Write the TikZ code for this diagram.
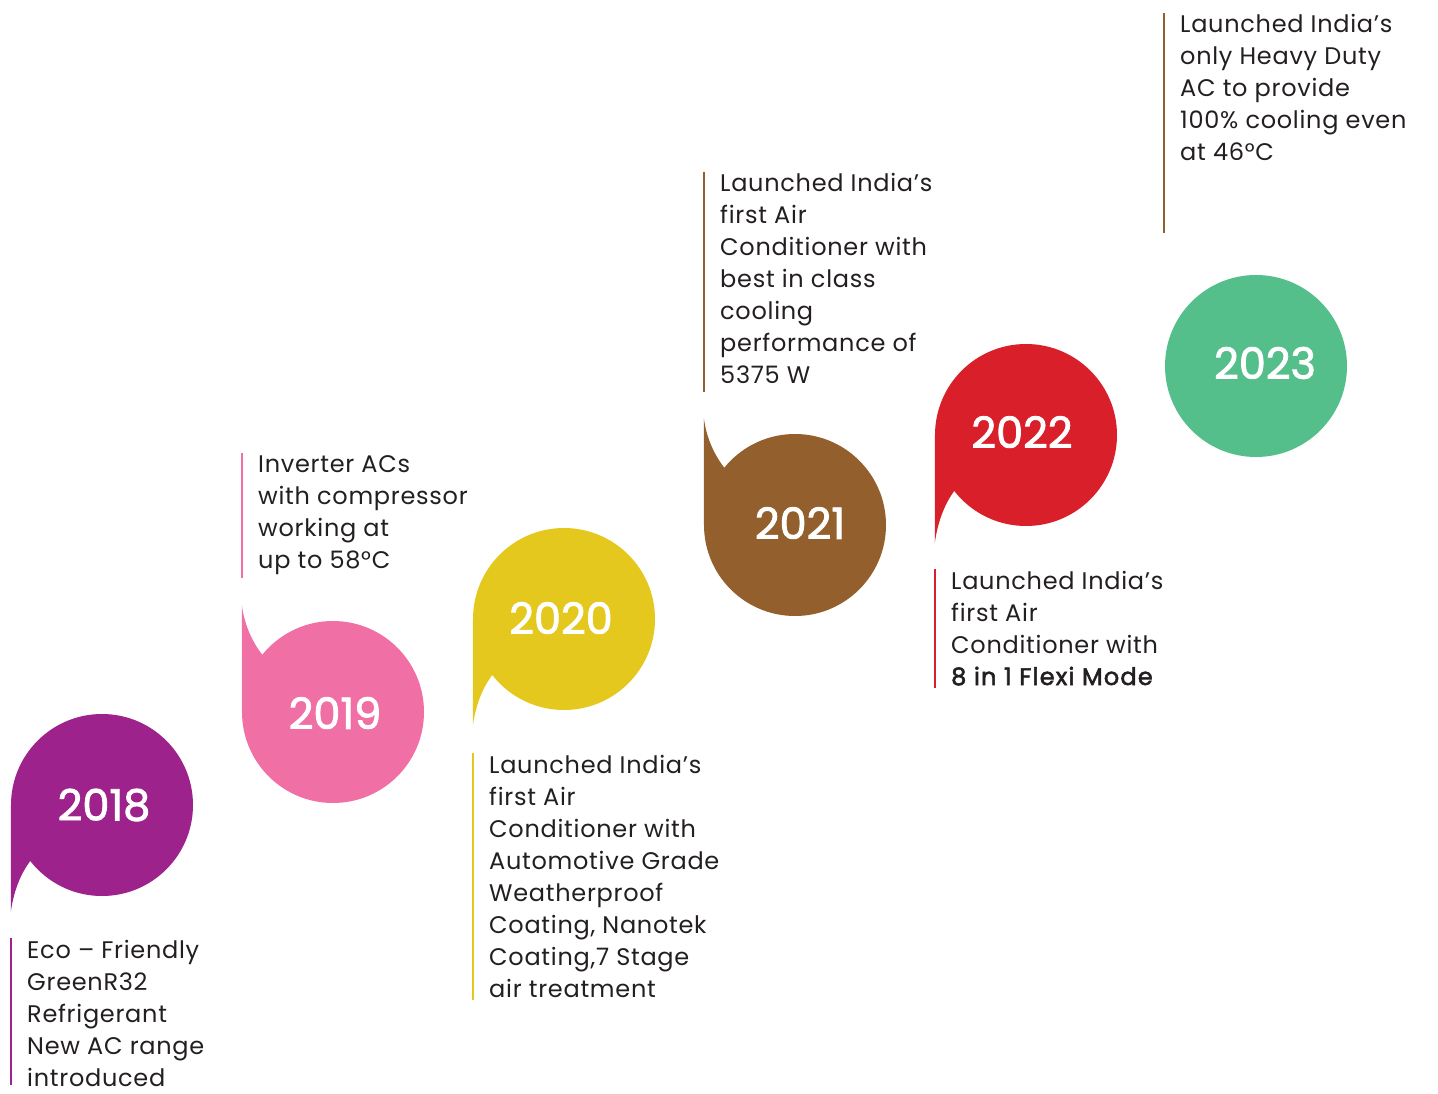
\documentclass[tikz,border=0pt]{standalone}
\usepackage{fontspec}
\setmainfont{Poppins}[LetterSpace=3]
\newfontfamily\yearfont{Poppins}[FakeBold=2]
\newfontfamily\medfont{Poppins}[LetterSpace=5,FakeBold=2.2]
\definecolor{cpurple}{HTML}{9E228B}
\definecolor{cpink}{HTML}{F070A6}
\definecolor{cyellow}{HTML}{E5C81E}
\definecolor{cbrown}{HTML}{93602D}
\definecolor{cred}{HTML}{D91F2A}
\definecolor{cgreen}{HTML}{55BF8C}
\definecolor{ctext}{HTML}{231F20}
\tikzset{
  bubble/.style={circle, minimum size=182pt, inner sep=0pt, fill=#1},
  yearlbl/.style={text=white, inner sep=0pt, font=\yearfont\fontsize{43}{43}\selectfont},
  desc/.style={anchor=base west, inner sep=0pt, text=ctext, font=\fontsize{24}{32}\selectfont},
  vbar/.style={draw=#1, line width=2.6pt},
}
\newcommand{\desctext}[1]{\begin{tabular}[t]{@{}l@{}}#1\end{tabular}}
\begin{document}
\begin{tikzpicture}[x=1pt,y=-1pt]
\useasboundingbox (0,0) rectangle (1438,1094);

% ---- 2018 (tail down)
\node[bubble=cpurple] (b2018) at (102,805) {};
\fill[cpurple] (b2018.west) -- ++(0,107) .. controls +(3,-22) and +(-9,12) .. (b2018.218.4) -- (b2018.center) -- cycle;
\node[yearlbl] (y2018) at (104,805) {2018};

% ---- 2019 (tail up)
\node[bubble=cpink] (b2019) at (333,712) {};
\fill[cpink] (b2019.west) -- ++(0,-107) .. controls +(3,22) and +(-9,-12) .. (b2019.141.6) -- (b2019.center) -- cycle;
\node[yearlbl] (y2019) at (335,713) {2019};

% ---- 2020 (tail down)
\node[bubble=cyellow] (b2020) at (564,619) {};
\fill[cyellow] (b2020.west) -- ++(0,107) .. controls +(3,-22) and +(-9,12) .. (b2020.218.4) -- (b2020.center) -- cycle;
\node[yearlbl] (y2020) at (561,618) {2020};

% ---- 2021 (tail up)
\node[bubble=cbrown] (b2021) at (795,525) {};
\fill[cbrown] (b2021.west) -- ++(0,-107) .. controls +(3,22) and +(-9,-12) .. (b2021.141.6) -- (b2021.center) -- cycle;
\node[yearlbl] (y2021) at (800,523) {2021};

% ---- 2022 (tail down)
\node[bubble=cred] (b2022) at (1026,435) {};
\fill[cred] (b2022.west) -- ++(0,108) .. controls +(3,-22) and +(-9,12) .. (b2022.218.4) -- (b2022.center) -- cycle;
\node[yearlbl] (y2022) at (1022,432) {2022};

% ---- 2023 (no tail)
\node[bubble=cgreen] (b2023) at (1256,366) {};
\node[yearlbl] (y2023) at (1265,363) {2023};

% ---- descriptions
\node[desc] (t2018) at (27,958) {\desctext{Eco – Friendly\\GreenR32\\Refrigerant\\New AC range\\introduced}};
\coordinate (l2018a) at (11,938); \coordinate (l2018b) at (11,1085);
\draw[vbar=cpurple] (l2018a) -- (l2018b);

\node[desc] (t2019) at (258,472) {\desctext{Inverter ACs\\with compressor\\working at\\up to 58°C}};
\coordinate (l2019a) at (242,453); \coordinate (l2019b) at (242,578);
\draw[vbar=cpink] (l2019a) -- (l2019b);

\node[desc] (t2020) at (489,773) {\desctext{Launched India’s\\first Air\\Conditioner with\\Automotive Grade\\Weatherproof\\Coating, Nanotek\\Coating,7 Stage\\air treatment}};
\coordinate (l2020a) at (473,753); \coordinate (l2020b) at (473,1000);
\draw[vbar=cyellow] (l2020a) -- (l2020b);

\node[desc] (t2021) at (720,192) {\desctext{Launched India’s\\first Air\\Conditioner with\\best in class\\cooling\\performance of\\5375 W}};
\coordinate (l2021a) at (704,172); \coordinate (l2021b) at (704,392);
\draw[vbar=cbrown] (l2021a) -- (l2021b);

\node[desc] (t2022) at (951,589) {\desctext{Launched India’s\\first Air\\Conditioner with\\{\medfont 8 in 1 Flexi Mode}}};
\coordinate (l2022a) at (935,569); \coordinate (l2022b) at (935,688);
\draw[vbar=cred] (l2022a) -- (l2022b);

\node[desc] (t2023) at (1180,33) {\desctext{Launched India’s\\only Heavy Duty\\AC to provide\\100\% cooling even\\at 46°C}};
\coordinate (l2023a) at (1164,13); \coordinate (l2023b) at (1164,233);
\draw[vbar=cbrown] (l2023a) -- (l2023b);
\end{tikzpicture}
\end{document}
